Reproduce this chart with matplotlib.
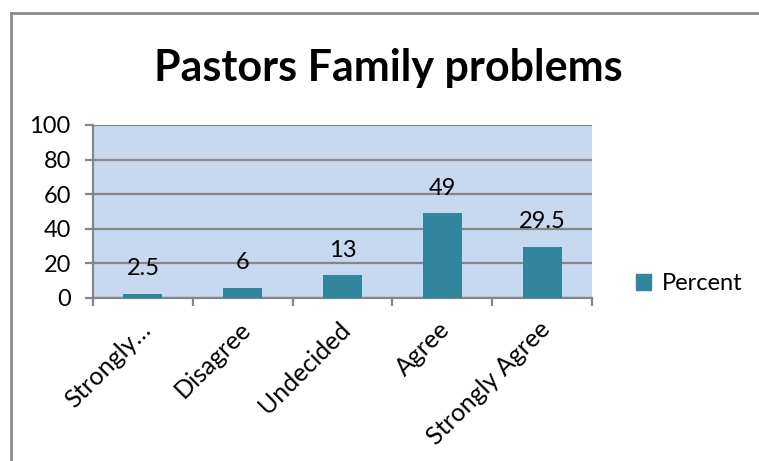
import matplotlib.pyplot as plt
import matplotlib.transforms as mtransforms
from matplotlib.lines import Line2D
from matplotlib.patches import Patch

categories = ['Strongly…', 'Disagree', 'Undecided', 'Agree', 'Strongly Agree']
percent = [2.5, 6, 13, 49, 29.5]
value_labels = ['2.5', '6', '13', '49', '29.5']
y_ticks = [0, 20, 40, 60, 80, 100]

plt.rcParams['font.family'] = ['Lato', 'DejaVu Sans']

bar_color = '#31859C'
grid_color = '#868686'
fs = 17

fig = plt.figure(figsize=(7.59, 4.61), dpi=100)

# Rahmen um das Diagramm (nur links und oben sichtbar)
fig.add_artist(Line2D([0.0145, 0.0145], [0, 0.972], transform=fig.transFigure,
                      color='#8C8C8C', linewidth=2))
fig.add_artist(Line2D([0.0145, 1.0], [0.972, 0.972], transform=fig.transFigure,
                      color='#8C8C8C', linewidth=2))

ax = fig.add_axes([0.1225, 0.3536, 0.6575, 0.3753])
ax.set_facecolor('#C6D9F1')

x = range(len(categories))
ax.bar(x, percent, width=0.39, color=bar_color, zorder=3)

for xi, v, lab in zip(x, percent, value_labels):
    ax.annotate(lab, (xi, v), xytext=(0, 18), textcoords='offset points',
                ha='center', va='center', fontsize=fs, color='black', zorder=4)

ax.set_xlim(-0.5, len(categories) - 0.5)
ax.set_ylim(0, 100)
ax.set_yticks(y_ticks)
ax.set_yticklabels([str(t) for t in y_ticks], fontsize=fs)
ax.yaxis.grid(True, color=grid_color, linewidth=1.6, zorder=1)
ax.set_axisbelow(True)

ax.set_xticks([i - 0.5 for i in range(len(categories) + 1)], minor=False)
ax.set_xticklabels([])
ax.set_xticks(list(x), minor=True)
ax.set_xticklabels(categories, minor=True, rotation=45, ha='right', va='center',
                   rotation_mode='anchor', fontsize=18)
ax.tick_params(axis='x', which='minor', length=0, pad=20)
ax.tick_params(axis='x', which='major', length=6, width=1.6, color=grid_color)
ax.tick_params(axis='y', length=6, width=1.6, color=grid_color, pad=10)

# Beschriftungen leicht nach rechts schieben, wie im Original
shift = mtransforms.ScaledTranslation(3 / 72, 0, fig.dpi_scale_trans)
for lbl in ax.get_xticklabels(minor=True):
    lbl.set_transform(lbl.get_transform() + shift)

for side in ['top', 'right']:
    ax.spines[side].set_visible(False)
ax.spines['left'].set_color(grid_color)
ax.spines['left'].set_linewidth(1.6)
ax.spines['bottom'].set_color(grid_color)
ax.spines['bottom'].set_linewidth(1.6)

fig.text(0.512, 0.852, 'Pastors Family problems', ha='center', va='center',
         fontsize=31, fontweight='bold')

fig.legend(handles=[Patch(color=bar_color, label='Percent')],
           loc='center left', bbox_to_anchor=(0.81, 0.385), frameon=False,
           fontsize=fs, handlelength=0.65, handleheight=0.65, handletextpad=0.45)

fig.savefig('out.png', dpi=100)
